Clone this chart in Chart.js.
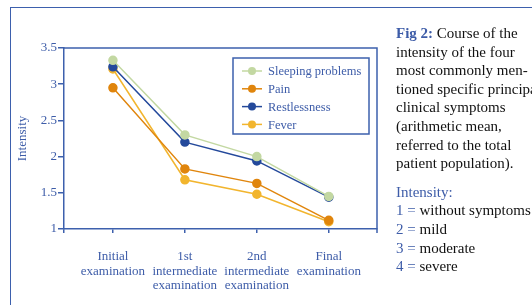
<!DOCTYPE html>
<html>
<head>
<meta charset="utf-8">
<script src="https://cdn.jsdelivr.net/npm/chart.js@4.4.1/dist/chart.umd.min.js"></script>
<style>
  html, body { margin: 0; padding: 0; background: #fff; }
  body { width: 532px; height: 305px; overflow: hidden; position: relative; }
  #frame {
    position: absolute; left: 10px; top: 7px; width: 600px; height: 400px;
    border-top: 1.5px solid #3d60ad; border-left: 1.5px solid #3d60ad;
  }
  #wrap { position: absolute; left: 0; top: 0; width: 532px; height: 305px; }
  #caption {
    position: absolute; left: 396px; top: 24px; width: 200px;
    font-family: "Liberation Serif", serif; font-size: 15px; line-height: 18.6px;
    color: #111; white-space: nowrap;
  }
  #caption .fig { color: #3d5ca8; font-weight: bold; }
  #caption .blue { color: #3d5ca8; }
  #scale { margin-top: 10px; }
</style>
</head>
<body>
<div id="frame"></div>
<div id="wrap"><canvas id="chart"></canvas></div>
<div id="caption">
  <div><span class="fig">Fig 2:</span> Course of the<br>intensity of the four<br>most commonly men-<br>tioned specific principal<br>clinical symptoms<br>(arithmetic mean,<br>referred to the total<br>patient population).</div>
  <div id="scale"></div>
</div>
<script>
const categories = [
  ['Initial', 'examination'],
  ['1st', 'intermediate', 'examination'],
  ['2nd', 'intermediate', 'examination'],
  ['Final', 'examination']
]
const sleepingProblems = [3.33, 2.30, 2.00, 1.45]
const pain = [2.95, 1.83, 1.63, 1.12]
const restlessness = [3.24, 2.20, 1.94, 1.44]
const fever = [3.21, 1.68, 1.48, 1.10]
const yTicks = [1, 1.5, 2, 2.5, 3, 3.5]
const intensityScale = ['without symptoms', 'mild', 'moderate', 'severe']

const blue = '#3d5ca8'
const axisBlue = '#3d60ad'
const serif = '"Liberation Serif", serif'

// caption legend for the intensity scale
const scaleDiv = document.getElementById('scale')
let html = '<span class="blue">Intensity:</span>'
intensityScale.forEach((txt, i) => {
  html += '<br><span class="blue">' + (i + 1) + ' =</span> ' + txt
})
scaleDiv.innerHTML = html

const toPoints = vals => vals.map((v, i) => ({ x: i, y: v }))

const series = [
  { label: 'Sleeping problems', data: sleepingProblems, color: '#c3d8a2' },
  { label: 'Pain', data: pain, color: '#e0850c' },
  { label: 'Restlessness', data: restlessness, color: '#24499b' },
  { label: 'Fever', data: fever, color: '#f2b52e' }
]

// box legend drawn inside the plot
const boxLegend = {
  id: 'boxLegend',
  afterDatasetsDraw(chart) {
    const ctx = chart.ctx
    const x0 = 233, y0 = 58, w = 136, h = 76
    ctx.save()
    ctx.strokeStyle = axisBlue
    ctx.lineWidth = 1.5
    ctx.fillStyle = '#fff'
    ctx.fillRect(x0, y0, w, h)
    ctx.strokeRect(x0, y0, w, h)
    ctx.font = '12.5px ' + serif
    ctx.textBaseline = 'middle'
    chart.data.datasets.forEach((ds, i) => {
      const y = 71 + i * 17.8
      ctx.strokeStyle = ds.borderColor
      ctx.lineWidth = 1.5
      ctx.beginPath()
      ctx.moveTo(242, y)
      ctx.lineTo(262, y)
      ctx.stroke()
      ctx.fillStyle = ds.borderColor
      ctx.beginPath()
      ctx.arc(252, y, 4, 0, Math.PI * 2)
      ctx.fill()
      ctx.fillStyle = blue
      ctx.fillText(ds.label, 268, y + 1)
    })
    ctx.restore()
  }
}

// top and right border of the plot
const plotBorder = {
  id: 'plotBorder',
  beforeDatasetsDraw(chart) {
    const a = chart.chartArea
    const ctx = chart.ctx
    ctx.save()
    ctx.strokeStyle = axisBlue
    ctx.lineWidth = 1.5
    ctx.beginPath()
    ctx.moveTo(a.left, a.top)
    ctx.lineTo(a.right, a.top)
    ctx.lineTo(a.right, a.bottom + 4)
    ctx.stroke()
    ctx.restore()
  }
}

const xMin = -0.68
const xMax = 3.67

new Chart(document.getElementById('chart'), {
  type: 'line',
  data: {
    datasets: series.map(s => ({
      label: s.label,
      data: toPoints(s.data),
      borderColor: s.color,
      backgroundColor: s.color,
      pointBackgroundColor: s.color,
      pointBorderColor: s.color,
      pointRadius: 4,
      borderWidth: 1.5,
      tension: 0
    }))
  },
  options: {
    responsive: true,
    maintainAspectRatio: false,
    animation: false,
    layout: { padding: { left: 0, top: 48, right: 155, bottom: 0 } },
    plugins: {
      legend: { display: false },
      tooltip: { enabled: false }
    },
    scales: {
      x: {
        type: 'linear',
        min: xMin,
        max: xMax,
        afterFit: s => { s.height = 76 },
        afterBuildTicks: s => {
          s.ticks = [{ value: xMin }].concat(categories.map((c, i) => ({ value: i })))
        },
        grid: {
          drawOnChartArea: false,
          tickLength: 4,
          color: axisBlue,
          lineWidth: 1.5
        },
        border: { color: axisBlue, width: 1.5 },
        ticks: {
          autoSkip: false,
          maxRotation: 0,
          padding: 16,
          color: blue,
          font: { family: serif, size: 13, lineHeight: 1.14 },
          callback: v => (Number.isInteger(v) && categories[v]) ? categories[v] : ''
        }
      },
      y: {
        min: 1,
        max: 3.5,
        afterFit: s => { s.width = 64 },
        afterBuildTicks: s => { s.ticks = yTicks.map(v => ({ value: v })) },
        grid: {
          drawOnChartArea: false,
          tickLength: 6,
          color: axisBlue,
          lineWidth: 1.5
        },
        border: { color: axisBlue, width: 1.5 },
        ticks: {
          padding: 1,
          color: blue,
          font: { family: serif, size: 13 },
          callback: v => String(v)
        },
        title: {
          display: true,
          text: 'Intensity',
          color: blue,
          font: { family: serif, size: 13 },
          padding: { top: 15, bottom: 0 }
        }
      }
    }
  },
  plugins: [plotBorder, boxLegend]
})
</script>
</body>
</html>
